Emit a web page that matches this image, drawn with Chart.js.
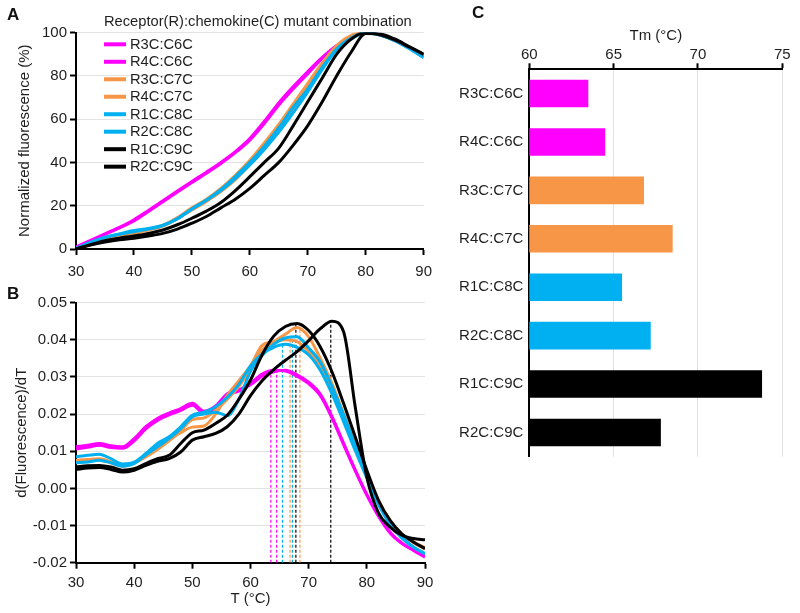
<!DOCTYPE html>
<html>
<head>
<meta charset="utf-8">
<script src="https://cdn.jsdelivr.net/npm/chart.js@4.4.1/dist/chart.umd.min.js"></script>
<style>
  body { margin: 0; background: #fff; }
  #wrap { position: relative; width: 800px; height: 613px; overflow: hidden; }
  canvas { position: absolute; }
  .panel { position: absolute; font: bold 17px "Liberation Sans", Arial, sans-serif; color: #111; line-height: 20px; }
</style>
</head>
<body>
<div id="wrap">
  <canvas id="chartA" width="440" height="285" style="left:0;top:0"></canvas>
  <canvas id="chartB" width="440" height="333" style="left:0;top:280px"></canvas>
  <canvas id="chartC" width="370" height="613" style="left:430px;top:0"></canvas>
  <div class="panel" style="left:7px;top:5px">A</div>
  <div class="panel" style="left:7px;top:284px">B</div>
  <div class="panel" style="left:472px;top:3px">C</div>
</div>
<script>
const comboLabels = ['R3C:C6C', 'R4C:C6C', 'R3C:C7C', 'R4C:C7C', 'R1C:C8C', 'R2C:C8C', 'R1C:C9C', 'R2C:C9C'];
const comboColors = ['#ff00ff', '#ff00ff', '#f79646', '#f79646', '#00b0f0', '#00b0f0', '#000000', '#000000'];
const legendTitle = 'Receptor(R):chemokine(C) mutant combination';

// A: normalized fluorescence (%) vs temperature
const tempsA = [30, 32.5, 35, 37.5, 40, 42.5, 45, 47.5, 50, 52.5, 55, 57.5, 60, 62.5, 65, 67.5, 70, 72.5, 75, 77.5, 80, 82.5, 85, 87.5, 90];
const normR3C6 = [1, 4, 7, 10, 13.5, 17.8, 22.3, 26.8, 31.2, 35.5, 40, 45, 51, 59, 67.5, 75, 82, 88.5, 94, 98, 100, 98.8, 96.4, 93, 89];
const normR4C6 = [0.5, 3.5, 6.8, 9.8, 13, 17.3, 21.8, 26.3, 30.7, 35, 39.5, 44.5, 50.3, 58, 66.5, 74, 81, 88, 93.5, 97.8, 100, 98.8, 96.4, 93, 89];
const normR3C7 = [0, 2.5, 4.5, 6, 7.5, 9, 11, 14.5, 19, 23, 28, 34, 41, 49, 57.5, 67, 76.5, 86, 94, 98.7, 100, 98.8, 96.4, 93, 89];
const normR4C7 = [0, 2.3, 4.3, 5.8, 7.2, 8.7, 10.6, 14, 18, 22, 26.5, 32, 39, 47, 55.5, 65, 75, 84.5, 93, 98.3, 100, 98.8, 96.4, 93, 89];
const normR1C8 = [0.3, 3, 5.5, 7, 8.5, 9.5, 11, 14, 18.5, 22.5, 27, 32.5, 38.8, 46, 54, 63, 72.6, 83, 92, 97, 100, 98.8, 96.2, 92.6, 88.5];
const normR2C8 = [0.3, 3, 5.3, 6.8, 8, 9.2, 10.8, 14, 18.5, 22.5, 27.5, 33.5, 40, 47.5, 56, 65.5, 74, 84, 92.5, 97.5, 100, 98.8, 96.2, 92.6, 88.5];
const normR1C9 = [0, 1.8, 3.2, 4.3, 5, 6, 7.2, 9.2, 11.9, 15, 19, 23, 28, 34, 40, 48, 57, 68, 80, 91, 99.5, 99.3, 97, 93.5, 90];
const normR2C9 = [0, 2, 3.8, 5, 6, 7.2, 8.8, 11.2, 14.2, 17.5, 21.5, 27, 33.4, 40, 46.6, 57, 68, 79, 90, 97, 100, 98.9, 96.6, 93.3, 90];

// B: d(Fluorescence)/dT vs temperature
const tempsB = [30, 32, 34, 36, 38, 40, 42, 44, 46, 48, 50, 52, 54, 56, 58, 60, 62, 64, 66, 68, 70, 72, 74, 76, 78, 80, 82, 84, 86, 88, 90];
const derivR3C6 = [0.0112, 0.0116, 0.0121, 0.0115, 0.0112, 0.0134, 0.0166, 0.0188, 0.0203, 0.0215, 0.0229, 0.0208, 0.0222, 0.0255, 0.0265, 0.0283, 0.0308, 0.0318, 0.0316, 0.0302, 0.0282, 0.0250, 0.0190, 0.0118, 0.0048, -0.0018, -0.0075, -0.0120, -0.0148, -0.0167, -0.0185];
const derivR4C6 = [0.0106, 0.0111, 0.0116, 0.0110, 0.0108, 0.0128, 0.0160, 0.0183, 0.0198, 0.0210, 0.0224, 0.0203, 0.0218, 0.0250, 0.0262, 0.0279, 0.0302, 0.0314, 0.0318, 0.0306, 0.0286, 0.0254, 0.0194, 0.0122, 0.0050, -0.0016, -0.0073, -0.0118, -0.0147, -0.0165, -0.0182];
const derivR3C7 = [0.0076, 0.0078, 0.0080, 0.0072, 0.0062, 0.0069, 0.0087, 0.0107, 0.0130, 0.0150, 0.0165, 0.0168, 0.0200, 0.0250, 0.0290, 0.0330, 0.0385, 0.0395, 0.0400, 0.0395, 0.0368, 0.0327, 0.0264, 0.0188, 0.0110, 0.0033, -0.0036, -0.0088, -0.0124, -0.0146, -0.0163];
const derivR4C7 = [0.0072, 0.0074, 0.0076, 0.0069, 0.0060, 0.0068, 0.0085, 0.0105, 0.0128, 0.0155, 0.0185, 0.0190, 0.0210, 0.0240, 0.0275, 0.0320, 0.0372, 0.0395, 0.0415, 0.0433, 0.0408, 0.0350, 0.0283, 0.0202, 0.0121, 0.0040, -0.0032, -0.0086, -0.0122, -0.0144, -0.0160];
const derivR1C8 = [0.0085, 0.0089, 0.0092, 0.0080, 0.0066, 0.0071, 0.0094, 0.0121, 0.0139, 0.0166, 0.0197, 0.0205, 0.0220, 0.0245, 0.0280, 0.0330, 0.0362, 0.0380, 0.0388, 0.0380, 0.0360, 0.0318, 0.0255, 0.0180, 0.0102, 0.0028, -0.0043, -0.0097, -0.0133, -0.0158, -0.0176];
const derivR2C8 = [0.0069, 0.0071, 0.0076, 0.0069, 0.0060, 0.0067, 0.0090, 0.0112, 0.0134, 0.0161, 0.0193, 0.0200, 0.0205, 0.0196, 0.0240, 0.0315, 0.0358, 0.0388, 0.0405, 0.0408, 0.0378, 0.0340, 0.0275, 0.0198, 0.0115, 0.0032, -0.0041, -0.0095, -0.0131, -0.0158, -0.0176];
const derivR1C9 = [0.0051, 0.0055, 0.0056, 0.0051, 0.0044, 0.0049, 0.0062, 0.0073, 0.0080, 0.0098, 0.0130, 0.0139, 0.0148, 0.0166, 0.0200, 0.0250, 0.0290, 0.0320, 0.0345, 0.0368, 0.0398, 0.0430, 0.0450, 0.0422, 0.0220, 0.0030, -0.0066, -0.0104, -0.0126, -0.0135, -0.0138];
const derivR2C9 = [0.0058, 0.0061, 0.0062, 0.0058, 0.0049, 0.0053, 0.0067, 0.0080, 0.0089, 0.0121, 0.0150, 0.0157, 0.0175, 0.0197, 0.0240, 0.0292, 0.0360, 0.0410, 0.0436, 0.0444, 0.0425, 0.0381, 0.0314, 0.0229, 0.0139, 0.0049, -0.0032, -0.0086, -0.0122, -0.0144, -0.0162];

// C: melting temperatures, and the derivative height where each dashed Tm marker stops in B
const tmValues = [63.5, 64.5, 66.8, 68.5, 65.5, 67.2, 73.8, 67.8];
const tmDerivTop = [0.0318, 0.0316, 0.0400, 0.0432, 0.0387, 0.0408, 0.0450, 0.0444];

const normSeries = [normR3C6, normR4C6, normR3C7, normR4C7, normR1C8, normR2C8, normR1C9, normR2C9];
const derivSeries = [derivR3C6, derivR4C6, derivR3C7, derivR4C7, derivR1C8, derivR2C8, derivR1C9, derivR2C9];
const drawOrder = [8, 7, 6, 5, 4, 3, 2, 1];

const fontFamily = '"Liberation Sans", Arial, Helvetica, sans-serif';
const gridGrey = '#e3e3e3';
Chart.defaults.font.family = fontFamily;
Chart.defaults.font.size = 15;
Chart.defaults.color = '#1e1e1e';

function curveDatasets(temps, series) {
    return comboLabels.map((label, i) => ({
        label: label,
        data: temps.map((t, k) => ({ x: t, y: series[i][k] })),
        borderColor: comboColors[i],
        backgroundColor: comboColors[i],
        borderWidth: 3,
        pointRadius: 0,
        cubicInterpolationMode: 'monotone',
        order: drawOrder[i]
    }));
}

const legendInside = {
    id: 'legendInside',
    afterDraw(chart) {
        const ctx = chart.ctx;
        ctx.save();
        ctx.font = '14.7px ' + fontFamily;
        ctx.fillStyle = '#1e1e1e';
        ctx.textBaseline = 'middle';
        ctx.fillText(legendTitle, 104, 22);
        chart.data.datasets.forEach((ds, i) => {
            const y = 44.3 + i * 17.48;
            ctx.strokeStyle = ds.borderColor;
            ctx.lineWidth = 4;
            ctx.beginPath();
            ctx.moveTo(104, y);
            ctx.lineTo(126, y);
            ctx.stroke();
            ctx.fillText(ds.label, 130, y + 0.5);
        });
        ctx.restore();
    }
};

// Panel A
new Chart(document.getElementById('chartA'), {
    type: 'line',
    data: { datasets: curveDatasets(tempsA, normSeries) },
    options: {
        responsive: false,
        animation: false,
        layout: { padding: { top: 32.5, right: 15, left: 0, bottom: 0 } },
        plugins: { legend: { display: false }, tooltip: { enabled: false } },
        scales: {
            x: {
                type: 'linear', min: 30, max: 90,
                ticks: { stepSize: 10, padding: 8 },
                grid: { drawOnChartArea: false, tickLength: 6, tickColor: '#000', tickWidth: 2 },
                border: { color: '#000', width: 2 },
                afterFit: s => { s.height = 36; }
            },
            y: {
                min: 0, max: 100,
                ticks: { stepSize: 20, padding: 3 },
                grid: { color: gridGrey, tickColor: '#000', tickLength: 6, tickWidth: 2 },
                border: { color: '#000', width: 2 },
                title: { display: true, text: 'Normalized fluorescence (%)', padding: { top: 16, bottom: 0 } },
                afterFit: s => { s.width = 76; }
            }
        }
    },
    plugins: [legendInside]
});

// Panel B
const tmMarkers = tmValues.map((tm, i) => ({
    label: comboLabels[i] + ' Tm',
    data: [{ x: tm, y: -0.02 }, { x: tm, y: tmDerivTop[i] }],
    borderColor: comboColors[i],
    borderWidth: 1.2,
    borderDash: [3, 2],
    pointRadius: 0,
    order: 20
}));

new Chart(document.getElementById('chartB'), {
    type: 'line',
    data: { datasets: curveDatasets(tempsB, derivSeries).concat(tmMarkers) },
    options: {
        responsive: false,
        animation: false,
        layout: { padding: { top: 22.7, right: 15, left: 0, bottom: 0 } },
        plugins: { legend: { display: false }, tooltip: { enabled: false } },
        scales: {
            x: {
                type: 'linear', min: 30, max: 90,
                ticks: { stepSize: 10, padding: 5 },
                grid: { drawOnChartArea: false, tickLength: 6, tickColor: '#000', tickWidth: 2 },
                border: { color: '#000', width: 2 },
                title: { display: true, text: 'T (°C)', padding: { top: 0, bottom: 5 } },
                afterFit: s => { s.height = 50.3; }
            },
            y: {
                min: -0.02, max: 0.05,
                ticks: {
                    stepSize: 0.01, padding: 3,
                    callback: v => (Math.abs(v) < 1e-9 ? 0 : v).toFixed(2)
                },
                grid: { color: gridGrey, tickColor: '#000', tickLength: 6, tickWidth: 2 },
                border: { color: '#000', width: 2 },
                title: { display: true, text: 'd(Fluorescence)/dT', padding: { top: 13, bottom: 0 } },
                afterFit: s => { s.width = 76; }
            }
        }
    }
});

// Panel C
new Chart(document.getElementById('chartC'), {
    type: 'bar',
    data: {
        labels: comboLabels,
        datasets: [{
            label: 'Tm',
            data: tmValues,
            backgroundColor: comboColors,
            barPercentage: 0.57,
            categoryPercentage: 1
        }]
    },
    options: {
        indexAxis: 'y',
        responsive: false,
        animation: false,
        layout: { padding: { top: 0, right: 17.7, bottom: 156.3, left: 0 } },
        plugins: { legend: { display: false }, tooltip: { enabled: false } },
        scales: {
            x: {
                position: 'top', min: 60, max: 75,
                ticks: { stepSize: 5, padding: -1 },
                grid: { color: gridGrey, tickColor: '#000', tickLength: 6, tickWidth: 2 },
                border: { color: '#000', width: 2 },
                title: { display: true, text: 'Tm (°C)', padding: { top: 27, bottom: 0 } },
                afterFit: s => { s.height = 69.3; }
            },
            y: {
                grid: { display: false, drawTicks: false },
                border: { color: '#000', width: 2 },
                ticks: { padding: 6 },
                afterFit: s => { s.width = 99.3; }
            }
        }
    }
});
</script>
</body>
</html>
